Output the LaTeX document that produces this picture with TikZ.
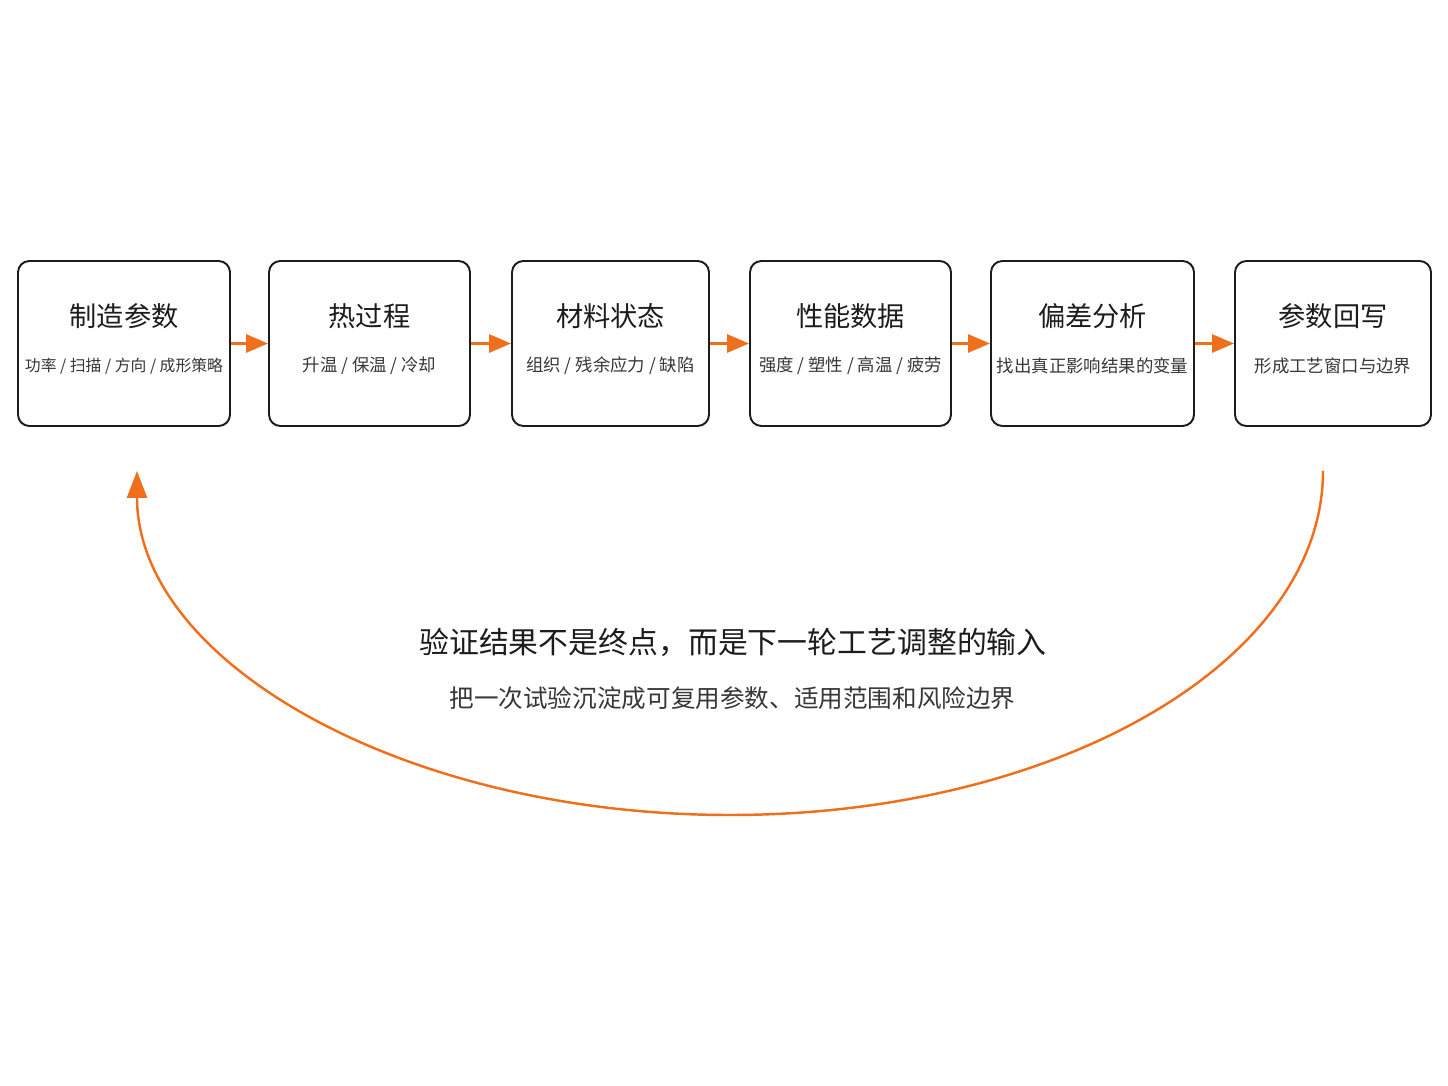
\documentclass[tikz,border=0pt]{standalone}
\usepackage{fontspec}
\setmainfont{Noto Sans CJK SC}
\usetikzlibrary{calc, arrows.meta}
\definecolor{POrange}{RGB}{238,112,28}
\definecolor{PInk}{RGB}{28,28,28}
\definecolor{PGray}{RGB}{55,55,55}

\begin{document}
\begin{tikzpicture}[
      every node/.style={inner sep=0pt, text=PInk},
      stepbox/.style={draw=PInk, line width=1.1pt, rounded corners=6.5pt,
                      fill=white, minimum height=3.3cm},
      ttl/.style={font=\fontsize{15.5}{18}\selectfont},
      sub/.style={font=\fontsize{9.9}{12}\selectfont, text=PGray},
      note/.style={font=\fontsize{17}{20}\selectfont},
      subnote/.style={font=\fontsize{14}{16}\selectfont, text=PGray},
      arr/.style={-{Triangle[length=0.44cm, width=0.36cm]}, line width=1.6pt, POrange},
      looparr/.style={-{Triangle[length=0.54cm, width=0.4cm]}, line width=1.4pt, POrange},
    ]
      \fill[white] (0, 0) rectangle (28.96, -21.72);
      \useasboundingbox (0, 0) rectangle (28.96, -21.72);
      % Top row: the six steps
      \node[stepbox, minimum width=4.24cm] (zz) at (2.48, -6.87) {};
      \node[ttl] (zz-t) at ($(zz)+(0, 0.55)$) {制造参数};
      \node[sub, font=\fontsize{9}{11}\selectfont] (zz-s) at ($(zz)+(0, -0.45)$) {功率 / 扫描 / 方向 / 成形策略};
      \node[stepbox, minimum width=4.02cm] (rg) at (7.39, -6.87) {};
      \node[ttl] (rg-t) at ($(rg)+(0, 0.55)$) {热过程};
      \node[sub] (rg-s) at ($(rg)+(0, -0.45)$) {升温 / 保温 / 冷却};
      \node[stepbox, minimum width=3.94cm] (cl) at (12.21, -6.87) {};
      \node[ttl] (cl-t) at ($(cl)+(0, 0.55)$) {材料状态};
      \node[sub] (cl-s) at ($(cl)+(0, -0.45)$) {组织 / 残余应力 / 缺陷};
      \node[stepbox, minimum width=4.02cm] (xn) at (17.01, -6.87) {};
      \node[ttl] (xn-t) at ($(xn)+(0, 0.55)$) {性能数据};
      \node[sub] (xn-s) at ($(xn)+(0, -0.45)$) {强度 / 塑性 / 高温 / 疲劳};
      \node[stepbox, minimum width=4.06cm] (pc) at (21.85, -6.87) {};
      \node[ttl] (pc-t) at ($(pc)+(0, 0.55)$) {偏差分析};
      \node[sub] (pc-s) at ($(pc)+(0, -0.45)$) {找出真正影响结果的变量};
      \node[stepbox, minimum width=3.92cm] (hx) at (26.66, -6.87) {};
      \node[ttl] (hx-t) at ($(hx)+(0, 0.55)$) {参数回写};
      \node[sub] (hx-s) at ($(hx)+(0, -0.45)$) {形成工艺窗口与边界};
      % Flow arrows
      \draw[arr] (zz.east) -- (rg.west);
      \draw[arr] (rg.east) -- (cl.west);
      \draw[arr] (cl.east) -- (xn.west);
      \draw[arr] (xn.east) -- (pc.west);
      \draw[arr] (pc.east) -- (hx.west);
      % Feedback loop back to the start
      \coordinate (lpS) at ($(hx.south)+(-0.2, -0.88)$);
      \coordinate (lpE) at ($(zz.south)+(0.26, -0.88)$);
      \coordinate (lpB) at (14.6, -16.3);
      \draw[looparr] (lpS) .. controls +(0, -3.81) and +(6.55, 0) .. (lpB)
        .. controls +(-6.55, 0) and +(0, -3.81) .. (lpE);
      % Caption inside the loop
      \node[note] (nt) at (14.66, -12.84) {验证结果不是终点，而是下一轮工艺调整的输入};
      \node[subnote] (ns) at (14.65, -13.96) {把一次试验沉淀成可复用参数、适用范围和风险边界};
    \end{tikzpicture}
\end{document}
